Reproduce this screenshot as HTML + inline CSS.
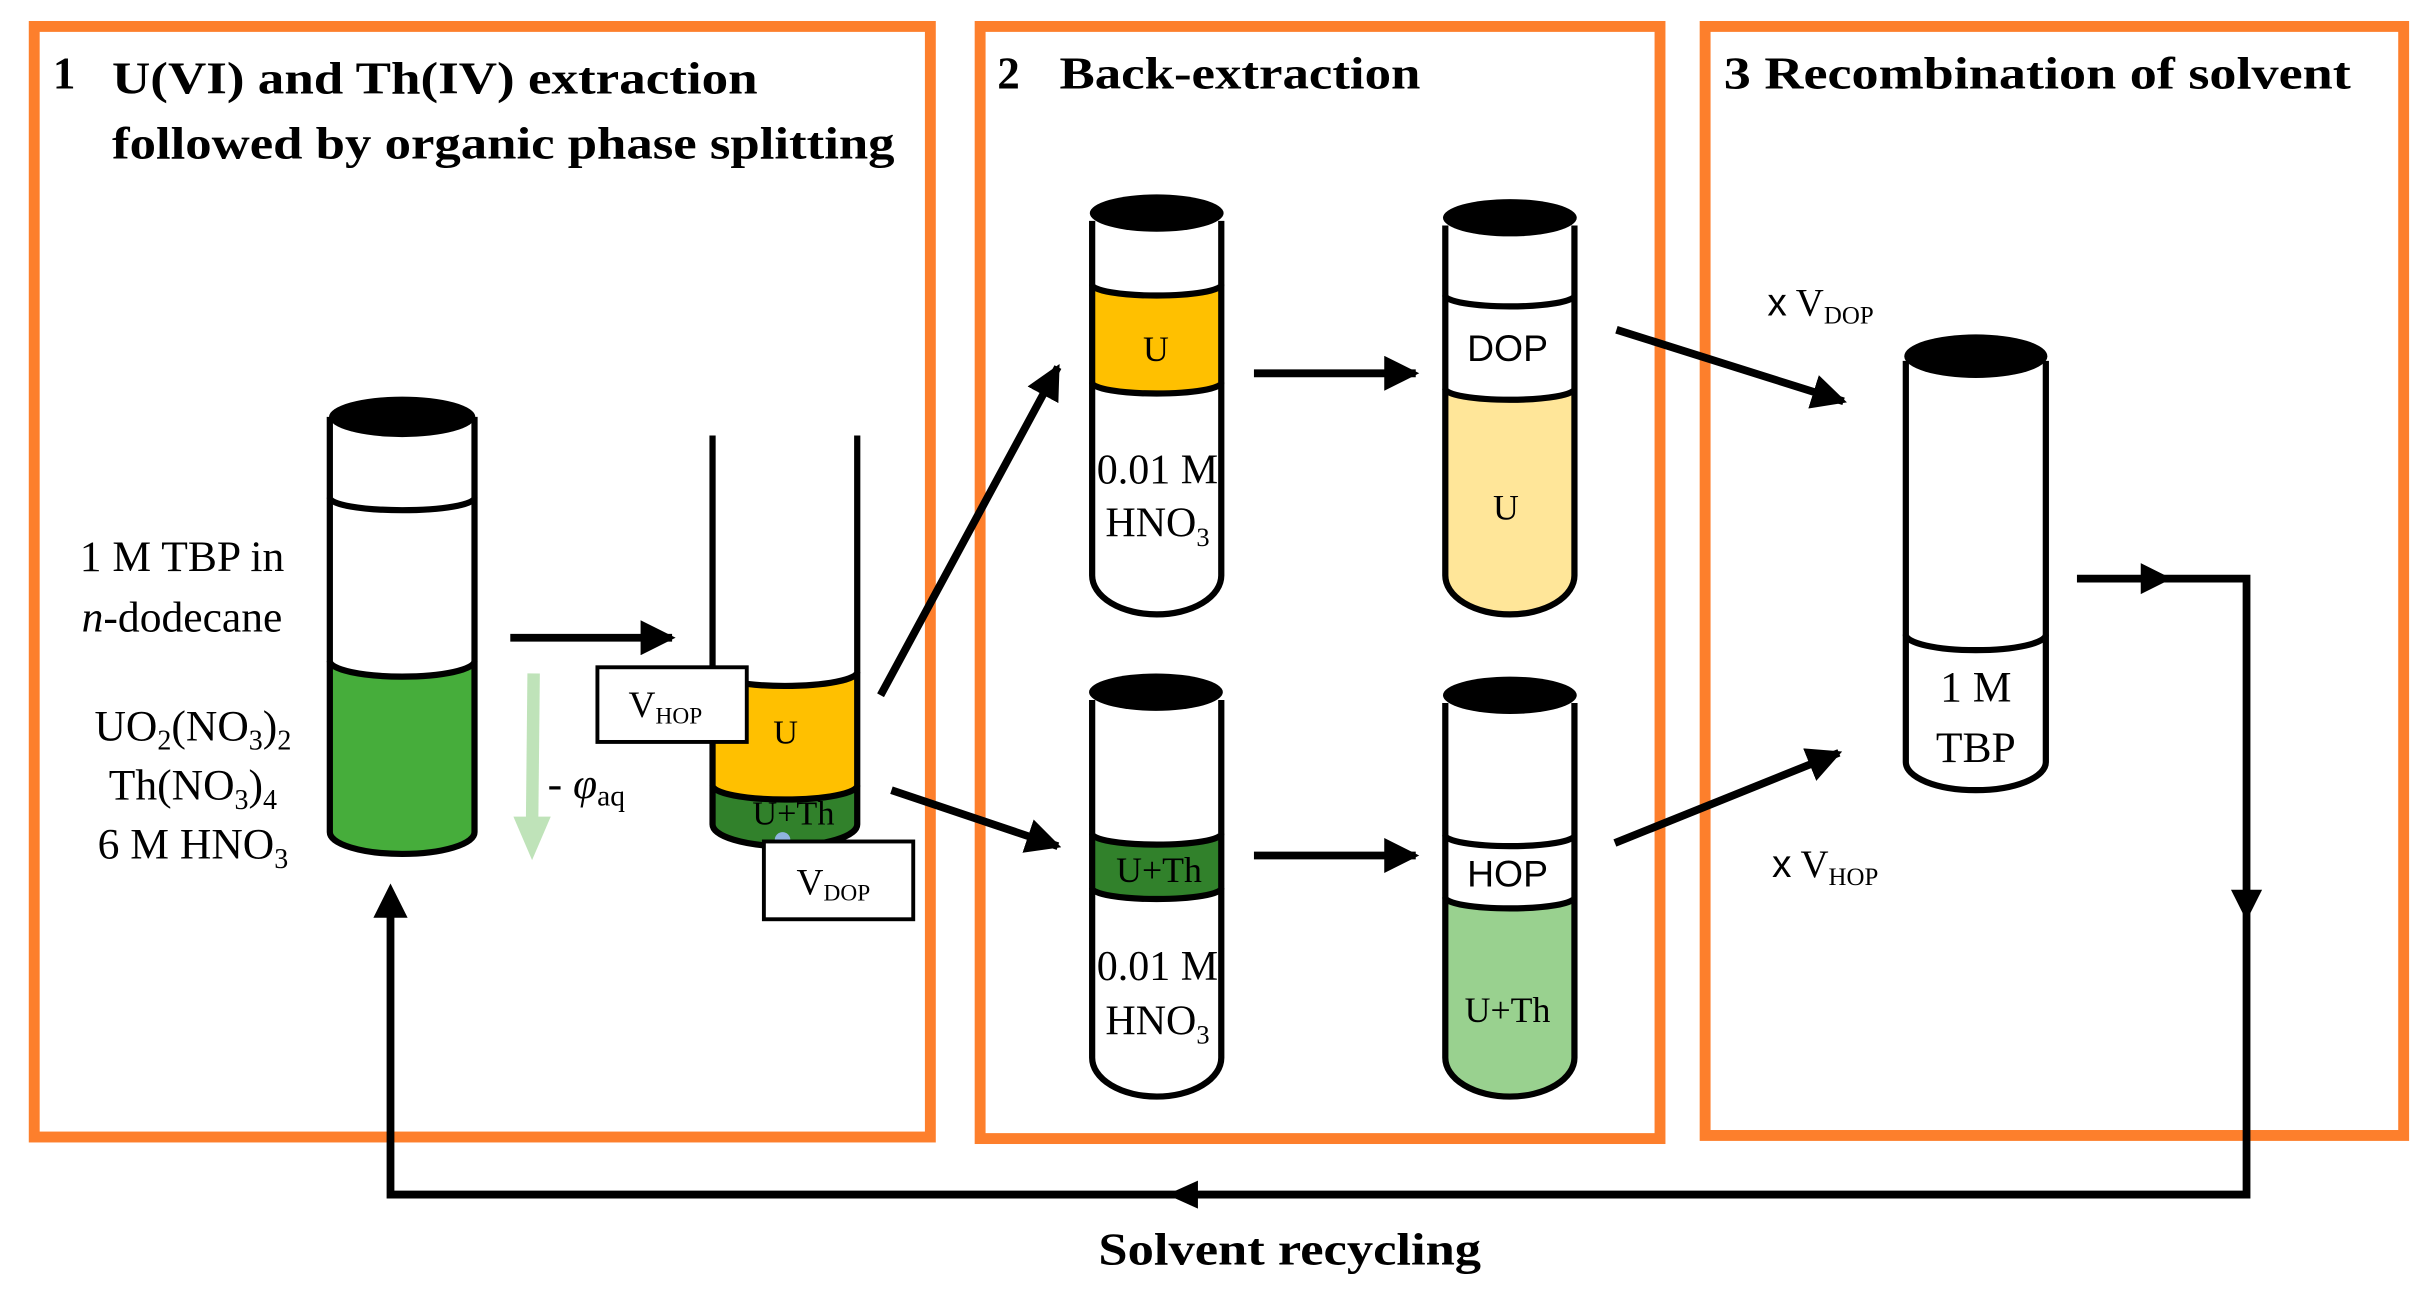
<!DOCTYPE html>
<html><head><meta charset="utf-8"><style>
html,body{margin:0;padding:0;background:#fff;}
svg{display:block;}
text{font-family:"Liberation Serif",serif;fill:#000;}
.t{font-weight:bold;font-size:29px;}
.s{font-family:"Liberation Sans",sans-serif;}
</style></head><body>
<svg width="2427" height="1305" viewBox="0 0 1560 839" preserveAspectRatio="none" xmlns="http://www.w3.org/2000/svg">
<defs>
<marker id="ah" viewBox="0 0 10 10" refX="9" refY="5" markerWidth="4.5" markerHeight="4.5" orient="auto" markerUnits="strokeWidth"><path d="M0,0 L10,5 L0,10 Z" fill="#000"/></marker>
</defs>
<g fill="none" stroke="#fd7f2c" stroke-width="7">
<rect x="22" y="17" width="576" height="714"/>
<rect x="630" y="17" width="437" height="715"/>
<rect x="1096" y="17" width="449" height="713"/>
</g>
<text class="t" x="34" y="57">1</text>
<text class="t" x="72" y="60" textLength="415" lengthAdjust="spacingAndGlyphs">U(VI) and Th(IV) extraction</text>
<text class="t" x="72" y="102" textLength="503" lengthAdjust="spacingAndGlyphs">followed by organic phase splitting</text>
<text class="t" x="641" y="57">2</text>
<text class="t" x="681" y="57" textLength="232" lengthAdjust="spacingAndGlyphs">Back-extraction</text>
<text class="t" x="1108" y="57" textLength="403" lengthAdjust="spacingAndGlyphs">3  Recombination  of solvent</text>

<path d="M212,425 A46.5 10 0 0 0 305,425 V535 A46.5 14 0 0 1 212,535 Z" fill="#46ad3b"/>
<path d="M212,425 A46.5 10 0 0 0 305,425" fill="none" stroke="#000" stroke-width="4"/>
<path d="M212,320 A46.5 8 0 0 0 305,320" fill="none" stroke="#000" stroke-width="4"/>
<path d="M212,268 V535 A46.5 14 0 0 0 305,535 V268" fill="none" stroke="#000" stroke-width="4"/>
<ellipse cx="258.5" cy="268" rx="47" ry="13" fill="#000"/>
<g font-size="28" text-anchor="middle">
<text x="117" y="367">1 M TBP in</text>
<text x="117" y="406"><tspan font-style="italic">n</tspan>-dodecane</text>
<text x="124" y="476">UO<tspan font-size="18" dy="6">2</tspan><tspan dy="-6">(NO</tspan><tspan font-size="18" dy="6">3</tspan><tspan dy="-6">)</tspan><tspan font-size="18" dy="6">2</tspan></text>
<text x="124" y="514">Th(NO<tspan font-size="18" dy="6">3</tspan><tspan dy="-6">)</tspan><tspan font-size="18" dy="6">4</tspan></text>
<text x="124" y="552">6 M HNO<tspan font-size="18" dy="6">3</tspan></text>
</g>
<line x1="328" y1="410" x2="432" y2="410" stroke="#000" stroke-width="5" marker-end="url(#ah)"/>
<line x1="343" y1="433" x2="342" y2="530" stroke="#bfe3b9" stroke-width="8"/>
<path d="M330,525 L354,525 L342,553 Z" fill="#bfe3b9"/>
<text x="352" y="513" font-size="28">- <tspan font-style="italic">φ</tspan><tspan font-size="19" dy="5">aq</tspan></text>

<path d="M458,432 A46.5 9 0 0 0 551,432 V505 A46.5 9 0 0 1 458,505 Z" fill="#ffc000"/>
<path d="M458,505 A46.5 9 0 0 0 551,505 V530 A46.5 14 0 0 1 458,530 Z" fill="#31812b"/>
<path d="M458,432 A46.5 9 0 0 0 551,432 M458,505 A46.5 9 0 0 0 551,505" fill="none" stroke="#000" stroke-width="4"/>
<path d="M458,280 V530 A46.5 14 0 0 0 551,530 V280" fill="none" stroke="#000" stroke-width="4"/>
<circle cx="503" cy="540" r="5" fill="#8fb4e0"/>
<text x="505" y="478" font-size="22" text-anchor="middle">U</text>
<text x="510" y="530" font-size="22" text-anchor="middle">U+Th</text>
<rect x="384" y="429" width="96" height="48" fill="#fff" stroke="#000" stroke-width="2.5"/>
<text x="404" y="461" font-size="24">V<tspan font-size="15" dy="4">HOP</tspan></text>
<rect x="491" y="541" width="96" height="50" fill="#fff" stroke="#000" stroke-width="2.5"/>
<text x="512" y="575" font-size="24">V<tspan font-size="15" dy="4">DOP</tspan></text>

<line x1="566" y1="447" x2="680" y2="236" stroke="#000" stroke-width="5" marker-end="url(#ah)"/>
<line x1="573" y1="508" x2="680" y2="544" stroke="#000" stroke-width="5" marker-end="url(#ah)"/>

<path d="M702,183 A41.5 7 0 0 0 785,183 V246 A41.5 7 0 0 1 702,246 Z" fill="#ffc000"/>
<path d="M702,183 A41.5 7 0 0 0 785,183 M702,246 A41.5 7 0 0 0 785,246" fill="none" stroke="#000" stroke-width="4"/>
<path d="M702,142 V370 A41.5 25 0 0 0 785,370 V142" fill="none" stroke="#000" stroke-width="4"/>
<ellipse cx="743.5" cy="137" rx="43" ry="12" fill="#000"/>
<text x="743" y="232" font-size="23" text-anchor="middle">U</text>
<text x="744" y="311" font-size="27" text-anchor="middle">0.01 M</text>
<text x="744" y="345" font-size="27" text-anchor="middle">HNO<tspan font-size="17" dy="6">3</tspan></text>
<line x1="806" y1="240" x2="910" y2="240" stroke="#000" stroke-width="5" marker-end="url(#ah)"/>

<path d="M929,250 A41.5 7 0 0 0 1012,250 V370 A41.5 25 0 0 1 929,370 Z" fill="#ffe699"/>
<path d="M929,190 A41.5 7 0 0 0 1012,190 M929,250 A41.5 7 0 0 0 1012,250" fill="none" stroke="#000" stroke-width="4"/>
<path d="M929,145 V370 A41.5 25 0 0 0 1012,370 V145" fill="none" stroke="#000" stroke-width="4"/>
<ellipse cx="970.5" cy="140" rx="43" ry="12" fill="#000"/>
<text x="969" y="232" font-size="24" text-anchor="middle" class="s">DOP</text>
<text x="968" y="334" font-size="23" text-anchor="middle">U</text>

<path d="M702,536 A41.5 7 0 0 0 785,536 V571 A41.5 7 0 0 1 702,571 Z" fill="#31812b"/>
<path d="M702,536 A41.5 7 0 0 0 785,536 M702,571 A41.5 7 0 0 0 785,571" fill="none" stroke="#000" stroke-width="4"/>
<path d="M702,450 V680 A41.5 25 0 0 0 785,680 V450" fill="none" stroke="#000" stroke-width="4"/>
<ellipse cx="743" cy="445" rx="43" ry="12" fill="#000"/>
<text x="745" y="567" font-size="23" text-anchor="middle">U+Th</text>
<text x="744" y="630" font-size="27" text-anchor="middle">0.01 M</text>
<text x="744" y="665" font-size="27" text-anchor="middle">HNO<tspan font-size="17" dy="6">3</tspan></text>
<line x1="806" y1="550" x2="910" y2="550" stroke="#000" stroke-width="5" marker-end="url(#ah)"/>

<path d="M929,577 A41.5 7 0 0 0 1012,577 V680 A41.5 25 0 0 1 929,680 Z" fill="#99d18f"/>
<path d="M929,537 A41.5 7 0 0 0 1012,537 M929,577 A41.5 7 0 0 0 1012,577" fill="none" stroke="#000" stroke-width="4"/>
<path d="M929,452 V680 A41.5 25 0 0 0 1012,680 V452" fill="none" stroke="#000" stroke-width="4"/>
<ellipse cx="970.5" cy="447" rx="43" ry="12" fill="#000"/>
<text x="969" y="570" font-size="24" text-anchor="middle" class="s">HOP</text>
<text x="969" y="657" font-size="23" text-anchor="middle">U+Th</text>

<line x1="1039" y1="212" x2="1185" y2="258" stroke="#000" stroke-width="5" marker-end="url(#ah)"/>
<line x1="1038" y1="542" x2="1182" y2="484" stroke="#000" stroke-width="5" marker-end="url(#ah)"/>
<text x="1136" y="203" font-size="25"><tspan class="s">x</tspan> V<tspan font-size="16" dy="5">DOP</tspan></text>
<text x="1139" y="564" font-size="25"><tspan class="s">x</tspan> V<tspan font-size="16" dy="5">HOP</tspan></text>

<path d="M1225,408 A45 10 0 0 0 1315,408" fill="none" stroke="#000" stroke-width="4"/>
<path d="M1225,232 V490 A45 18 0 0 0 1315,490 V232" fill="none" stroke="#000" stroke-width="4"/>
<ellipse cx="1270" cy="229" rx="46" ry="14" fill="#000"/>
<text x="1270" y="451" font-size="28" text-anchor="middle">1 M</text>
<text x="1270" y="490" font-size="28" text-anchor="middle">TBP</text>

<polyline points="1335,372 1444,372 1444,768 251,768 251,580" fill="none" stroke="#000" stroke-width="5"/>
<path d="M1376,362 L1396,372 L1376,382 Z" fill="#000"/>
<path d="M1434,572 L1444,592 L1454,572 Z" fill="#000"/>
<path d="M770,759 L750,768 L770,777 Z" fill="#000"/>
<path d="M240,590 L251,568 L262,590 Z" fill="#000"/>
<text class="t" x="829" y="813" text-anchor="middle" textLength="246" lengthAdjust="spacingAndGlyphs">Solvent recycling</text>
</svg>
</body></html>
